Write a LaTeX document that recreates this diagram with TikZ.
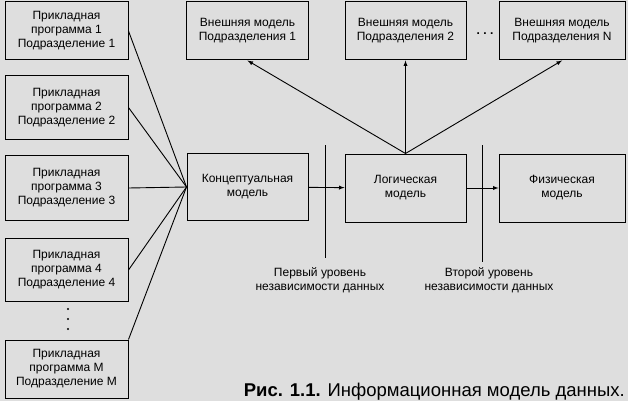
\documentclass[tikz,border=0pt]{standalone}
\usepackage{fontspec}
\setmainfont{Liberation Sans}
\usepackage{tikz}
\usetikzlibrary{positioning}
\usetikzlibrary{%
  calc,%
  arrows%
}
\definecolor{paper}{gray}{0.87}
\newcommand{\prog}[1]{Прикладная\\программа #1\\Подразделение #1}
\newcommand{\vnesh}[1]{Внешняя модель\\Подразделения #1}

\begin{document}
\begin{tikzpicture}[x=1pt, y=-1pt,
  every node/.style={font=\fontsize{12}{14}\selectfont},
  blok/.style={draw, line width=1pt, align=center, inner sep=0pt}]
\path[use as bounding box, fill=paper] (0,0) rectangle (628,401);

\node[blok, minimum width=123pt, minimum height=58pt] (P1) at (66.5,31) {\prog{1}};
\node[blok, minimum width=123pt, minimum height=63pt] (P2) at (66.5,107.5) {\prog{2}};
\node[blok, minimum width=123pt, minimum height=65pt] (P3) at (66.5,188) {\prog{3}};
\node[blok, minimum width=123pt, minimum height=63pt] (P4) at (66.5,270) {\prog{4}};
\node[blok, minimum width=123pt, minimum height=58pt] (PM) at (66.5,369) {\prog{M}};
\foreach \y in {309,319,329}
	\fill (68,\y) circle (1.2pt);

\node[blok, minimum width=122pt, minimum height=58pt] (E1) at (247.5,31) {\vnesh{1}};
\node[blok, minimum width=121pt, minimum height=58pt] (E2) at (405.5,31) {\vnesh{2}};
\node[font=\bfseries\fontsize{12}{14}\selectfont] (hdots) at (485,34) {.\ .\ .};
\node[blok, minimum width=126pt, minimum height=58pt] (EN) at (562,31) {\vnesh{N}};

\node[blok, minimum width=121pt, minimum height=67pt] (C) at (247.5,187) {Концептуальная\\модель};
\node[blok, minimum width=121pt, minimum height=68pt] (L) at (405.5,188) {Логическая\\модель};
\node[blok, minimum width=126pt, minimum height=68pt] (F) at (562,188) {Физическая\\модель};

\coordinate (u1) at (325,145);
\coordinate (d1) at (325,258);
\coordinate (u2) at (482,145);
\coordinate (d2) at (482,262);
\node[align=center, inner sep=0pt] (lev1) at (320,280) {Первый уровень\\независимости данных};
\node[align=center, inner sep=0pt] (lev2) at (489,280) {Второй уровень\\независимости данных};

\node[anchor=base east, inner sep=0pt, font=\fontsize{18.5}{22}\selectfont] (cap) at (625,396) {\textbf{Рис. 1.1.} Информационная модель данных.};

\draw[line width=0.9pt]
	(P1.east) edge (C.west)
	(P2.east) edge (C.west)
	(P3.east) edge (C.west)
	(P4.east) edge (C.west)
	(PM.north east) edge (C.west)
	(C) edge[-latex] (L)
	(L) edge[-latex] (F)
	(L.north) edge[-latex] (E1.south)
	(L.north) edge[-latex] (E2.south)
	(L.north) edge[-latex] (EN.south)
	(u1) edge (d1)
	(u2) edge (d2)
;
\end{tikzpicture}
\end{document}
